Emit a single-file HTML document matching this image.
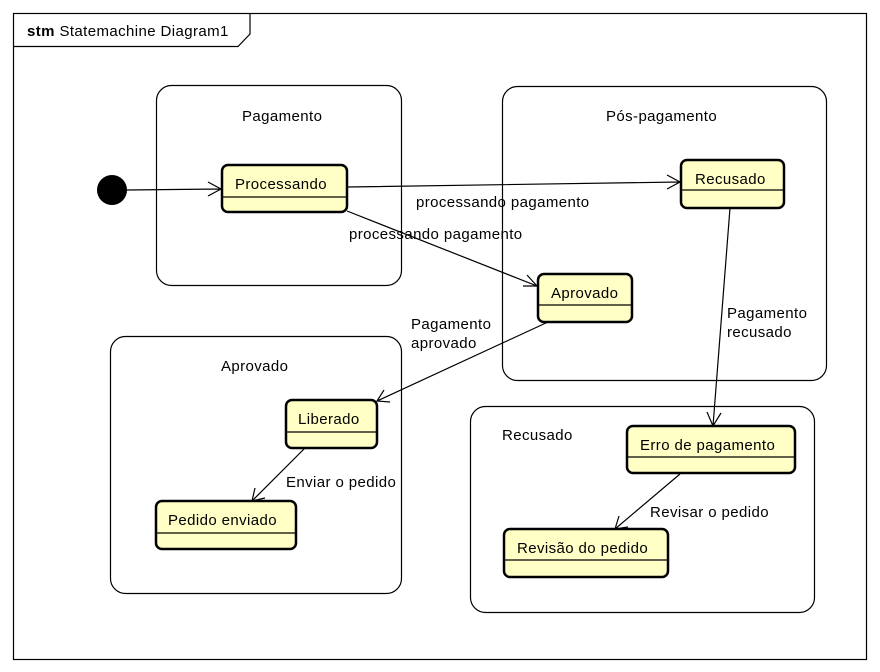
<!DOCTYPE html>
<html><head><meta charset="utf-8"><style>
body{margin:0;background:#fff}
svg{display:block;font-family:"Liberation Sans",Arial,sans-serif;font-size:15px;letter-spacing:0.4px}
.c{fill:#fff;stroke:#000;stroke-width:1.2}
.s{fill:#ffffc6;stroke:#000;stroke-width:2.5}
.l{stroke:#000;stroke-width:1.2;fill:none}
</style></head><body>
<svg width="880" height="672" viewBox="0 0 880 672">
<rect x="0" y="0" width="880" height="672" fill="#fff"/>
<rect x="13.5" y="13.5" width="853" height="646" fill="#fff" stroke="#000" stroke-width="1.2"/>
<path class="l" d="M13.5 46.5 H238 L250 34 V13.5"/>
<text x="27" y="36"><tspan font-weight="bold">stm</tspan> Statemachine Diagram1</text>

<rect class="c" x="156.5" y="85.5" width="245" height="200" rx="15"/>
<text x="242" y="121">Pagamento</text>
<rect class="c" x="502.5" y="86.5" width="324" height="294" rx="15"/>
<text x="606" y="121">Pós-pagamento</text>
<rect class="c" x="110.5" y="336.5" width="291" height="257" rx="15"/>
<text x="221" y="371">Aprovado</text>
<rect class="c" x="470.5" y="406.5" width="344" height="206" rx="15"/>
<text x="502" y="440">Recusado</text>

<circle cx="112" cy="190" r="15"/>

<g>
<rect class="s" x="222" y="165" width="125" height="47" rx="6"/><line class="l" x1="222" y1="197" x2="347" y2="197"/><text x="235" y="189">Processando</text>
<rect class="s" x="681" y="160" width="103" height="48" rx="6"/><line class="l" x1="681" y1="190" x2="784" y2="190"/><text x="695" y="184">Recusado</text>
<rect class="s" x="538" y="274" width="94" height="48" rx="6"/><line class="l" x1="538" y1="305" x2="632" y2="305"/><text x="551" y="298">Aprovado</text>
<rect class="s" x="286" y="400" width="91" height="48" rx="6"/><line class="l" x1="286" y1="432" x2="377" y2="432"/><text x="298" y="424">Liberado</text>
<rect class="s" x="156" y="501" width="140" height="48" rx="6"/><line class="l" x1="156" y1="533" x2="296" y2="533"/><text x="168" y="525">Pedido enviado</text>
<rect class="s" x="627" y="426" width="168" height="47" rx="6"/><line class="l" x1="627" y1="457" x2="795" y2="457"/><text x="640" y="450">Erro de pagamento</text>
<rect class="s" x="504" y="529" width="164" height="48" rx="6"/><line class="l" x1="504" y1="560" x2="668" y2="560"/><text x="517" y="553">Revisão do pedido</text>
</g>

<g class="l">
<path d="M127 190 L221 189 M208 182 L221 189 L208 196"/>
<path d="M347 187 L680 182 M667 175 L680 182 L667 189"/>
<path d="M347 211 L537 286 M523 286 L537 286 L527 275"/>
<path d="M548 322 L377 401 M384 390 L377 401 L390 402"/>
<path d="M730 208 L713 426 M707 412 L713 426 L721 413"/>
<path d="M305 448 L252 501 M255 488 L252 501 L265 498"/>
<path d="M680 474 L615 529 M619 516 L615 529 L628 527"/>
</g>
<text x="416" y="207">processando pagamento</text>
<text x="349" y="239">processando pagamento</text>
<text x="411" y="329">Pagamento</text>
<text x="411" y="348">aprovado</text>
<text x="727" y="318">Pagamento</text>
<text x="727" y="337">recusado</text>
<text x="286" y="487">Enviar o pedido</text>
<text x="650" y="517">Revisar o pedido</text>
</svg>
</body></html>
